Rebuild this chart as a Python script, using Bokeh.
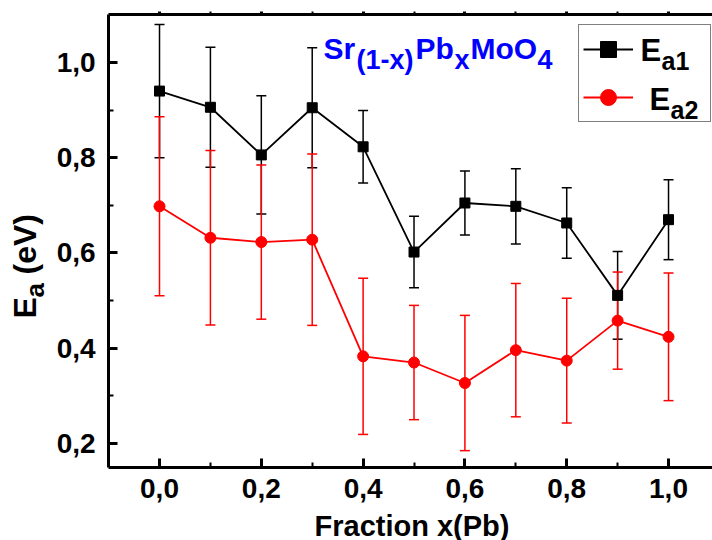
import numpy as np
from bokeh.plotting import figure
from bokeh.models import (ColumnDataSource, Whisker, TeeHead, Range1d, LinearAxis,
                          FixedTicker, Label, Legend, LegendItem)
from bokeh.core.properties import value
from bokeh.embed import file_html
from bokeh.resources import INLINE

# ---------------- data ----------------
fraction = [0.0, 0.1, 0.2, 0.3, 0.4, 0.5, 0.6, 0.7, 0.8, 0.9, 1.0]
ea1 = [0.940, 0.906, 0.806, 0.905, 0.823, 0.602, 0.705, 0.698, 0.663, 0.511, 0.670]
ea1_err = [0.140, 0.126, 0.124, 0.126, 0.076, 0.075, 0.067, 0.079, 0.074, 0.092, 0.084]
ea2 = [0.698, 0.632, 0.623, 0.628, 0.383, 0.370, 0.327, 0.396, 0.374, 0.458, 0.424]
ea2_err = [0.188, 0.183, 0.162, 0.180, 0.164, 0.120, 0.142, 0.140, 0.131, 0.102, 0.134]

x_ticks = [0.0, 0.2, 0.4, 0.6, 0.8, 1.0]
x_tick_labels = ["0,0", "0,2", "0,4", "0,6", "0,8", "1,0"]
x_minor = [0.1, 0.3, 0.5, 0.7, 0.9]
y_ticks = [0.2, 0.4, 0.6, 0.8, 1.0]
y_tick_labels = ["0,2", "0,4", "0,6", "0,8", "1,0"]
y_minor = [0.3, 0.5, 0.7, 0.9]

# axis box (data units)
X_LO, Y_LO, Y_HI = -0.1, 0.15, 1.1

FONT = "Liberation Sans"
W, H = 712, 540

s1 = ColumnDataSource(dict(x=fraction, y=ea1,
                           lo=np.array(ea1) - np.array(ea1_err),
                           hi=np.array(ea1) + np.array(ea1_err)))
s2 = ColumnDataSource(dict(x=fraction, y=ea2,
                           lo=np.array(ea2) - np.array(ea2_err),
                           hi=np.array(ea2) + np.array(ea2_err)))

# frame covers the whole canvas; axes are pinned at the box edges
XR = Range1d(-0.3124, 1.0864)
YR = Range1d(-0.0037, 1.1302)
p = figure(width=W, height=H, x_range=XR, y_range=YR,
           output_backend="svg", toolbar_location=None,
           x_axis_location=None, y_axis_location=None, min_border=0)
p.outline_line_color = None
p.grid.grid_line_color = None
p.background_fill_color = "white"
p.border_fill_color = "white"


def style_axis(ax, ticks, minor, labels, show_labels=True):
    ax.ticker = FixedTicker(ticks=ticks, minor_ticks=minor)
    ax.major_label_overrides = {t: l for t, l in zip(ticks, labels)}
    ax.axis_line_width = 3
    ax.axis_line_color = "black"
    ax.major_tick_line_width = 3
    ax.minor_tick_line_width = 2
    ax.major_tick_in = 9
    ax.major_tick_out = 0
    ax.minor_tick_in = 5
    ax.minor_tick_out = 0
    ax.major_label_text_font = FONT
    ax.major_label_text_font_style = "bold"
    ax.major_label_text_color = "black"
    ax.major_label_text_font_size = "28px"
    if not show_labels:
        ax.major_label_text_font_size = "0px"
        ax.major_label_text_color = None
        ax.major_label_standoff = 0
        ax.major_tick_in = 0
        ax.major_tick_out = 3
        ax.minor_tick_in = 0
        ax.minor_tick_out = 3


xb = LinearAxis(fixed_location=Y_LO, bounds=(X_LO, XR.end))
style_axis(xb, x_ticks, x_minor, x_tick_labels)
xb.major_label_standoff = 12
p.add_layout(xb, "below")

yl = LinearAxis(fixed_location=X_LO, bounds=(Y_LO, Y_HI))
style_axis(yl, y_ticks, y_minor, y_tick_labels)
yl.major_label_standoff = 13
p.add_layout(yl, "left")

xt = LinearAxis(fixed_location=Y_HI, bounds=(X_LO, XR.end))
style_axis(xt, x_ticks, x_minor, x_tick_labels, show_labels=False)
p.add_layout(xt, "above")

# error bars
w1 = Whisker(base="x", lower="lo", upper="hi", source=s1, line_color="black", line_width=1.5,
             lower_head=TeeHead(size=10, line_color="black", line_width=1.5),
             upper_head=TeeHead(size=10, line_color="black", line_width=1.5))
w2 = Whisker(base="x", lower="lo", upper="hi", source=s2, line_color="red", line_width=1.5,
             lower_head=TeeHead(size=10, line_color="red", line_width=1.5),
             upper_head=TeeHead(size=10, line_color="red", line_width=1.5))
p.add_layout(w1)
p.add_layout(w2)

l1 = p.line("x", "y", source=s1, line_color="black", line_width=1.8)
m1 = p.scatter("x", "y", source=s1, marker="square", size=10, fill_color="black", line_color="black")
l2 = p.line("x", "y", source=s2, line_color="red", line_width=1.8)
m2 = p.scatter("x", "y", source=s2, marker="circle", size=11, fill_color="red", line_color="red")

# legend box (screen position from bottom-left of canvas)
legend = Legend(items=[LegendItem(label=value(" "), renderers=[l1, m1]),
                       LegendItem(label=value(" "), renderers=[l2, m2])],
                location=(578, H - 122), orientation="vertical",
                padding=4, spacing=8, glyph_width=50, glyph_height=40,
                label_width=65, label_standoff=8, label_text_font_size="10px",
                border_line_color="black", border_line_width=1,
                background_fill_alpha=0.0, margin=0)
p.add_layout(legend)

SHIFT = 9  # correction for where the text baseline lands


def txt(t, px, py, size, color="black", angle=0.0):
    if angle:
        px = px - SHIFT
    else:
        py = py - SHIFT
    p.add_layout(Label(x=px, y=H - py, x_units="screen", y_units="screen", text=t,
                       text_font=FONT, text_font_style="bold", text_font_size=f"{size}px",
                       text_color=color, text_baseline="alphabetic", text_align="left",
                       angle=angle))


# legend texts
txt("E", 640, 59, 31)
txt("a1", 661, 69, 25)
txt("E", 649, 108, 31)
txt("a2", 670, 118, 25)

# formula
BLUE = "#0000FF"
txt("Sr", 323, 57, 30, BLUE)
txt("(1-x)", 356, 68, 27, BLUE)
txt("Pb", 415, 57, 30, BLUE)
txt("x", 454, 68, 27, BLUE)
txt("MoO", 470, 57, 30, BLUE)
txt("4", 537, 68, 27, BLUE)

# axis titles
txt("Fraction x(Pb)", 314, 534, 29)
txt("E", 33, 318, 32, angle=np.pi / 2)
txt("a", 43, 297, 26, angle=np.pi / 2)
txt("(eV)", 33, 274, 32, angle=np.pi / 2)

open("out.html", "w").write(file_html(p, INLINE))
